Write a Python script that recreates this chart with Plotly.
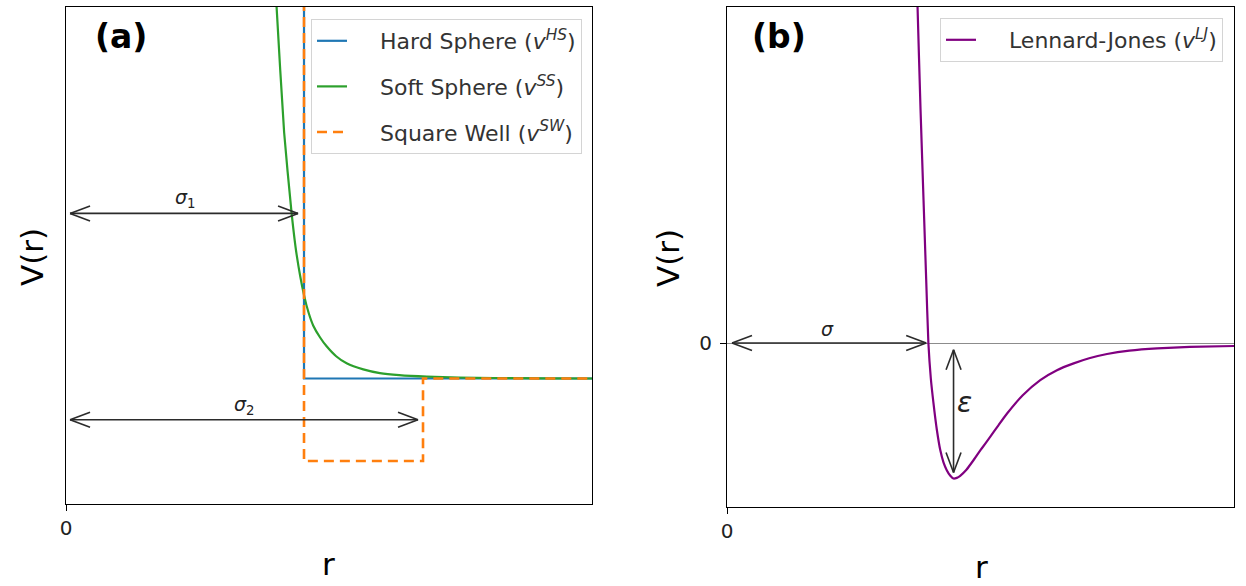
import plotly.graph_objects as go

# ---- data -------------------------------------------------------------
# (a) model pair potentials, r in units of sigma_1, V in units of well depth
hs_r = [1.0, 1.0, 2.21]
hs_v = [10.0, 0.0, 0.0]

ss_r = [0.87, 0.885, 0.9165, 0.948, 0.969, 1.0, 1.02, 1.039, 1.067, 1.095,
        1.135, 1.179, 1.249, 1.319, 1.40, 1.516, 1.65, 1.8, 2.0, 2.21]
ss_v = [5.4, 4.49, 2.98, 2.0, 1.50, 1.01, 0.79, 0.64, 0.50, 0.39,
        0.27, 0.184, 0.11, 0.065, 0.040, 0.022, 0.012, 0.006, 0.002, 0.0]

sw_r = [1.0, 1.0, 1.5, 1.5, 2.21]
sw_v = [10.0, -1.0, -1.0, 0.0, 0.0]

# (b) Lennard-Jones, r in units of sigma, V in units of epsilon
lj_r = [0.935, 0.947, 0.962, 0.977, 0.99, 1.001, 1.013, 1.026, 1.043, 1.06,
        1.076, 1.093, 1.11, 1.126, 1.142, 1.159, 1.19, 1.225, 1.265, 1.308,
        1.35, 1.392, 1.47, 1.557, 1.64, 1.723, 1.8, 1.889, 2.0, 2.138,
        2.3, 2.52]
lj_v = [3.2, 2.486, 1.72, 1.05, 0.47, 0.0, -0.26, -0.44, -0.64, -0.79,
        -0.88, -0.94, -0.98, -1.0, -0.995, -0.98, -0.935, -0.865, -0.78, -0.693,
        -0.605, -0.52, -0.385, -0.273, -0.2, -0.15, -0.112, -0.081, -0.056, -0.039,
        -0.029, -0.022]

# distance markers
sigma1 = 1.0
sigma2 = 1.5
sigma_lj = 1.0
r_min_lj = 1.126
eps = 1.0

FONT = "DejaVu Sans"
W, H = 1246, 586
PAD = "&nbsp;" * 4  # extra room between legend sample and label

fig = go.Figure()

fig.add_trace(go.Scatter(x=hs_r, y=hs_v, mode="lines",
                         name=PAD + "Hard Sphere (<i>v<sup>HS</sup></i>)",
                         line=dict(color="#1f77b4", width=2.2), legendgroup="hs",
                         xaxis="x", yaxis="y"))
fig.add_trace(go.Scatter(x=ss_r, y=ss_v, mode="lines",
                         name=PAD + "Soft Sphere (<i>v<sup>SS</sup></i>)",
                         line=dict(color="#2ca02c", width=2.2, shape="spline", smoothing=0.5),
                         legendgroup="ss", xaxis="x", yaxis="y"))
fig.add_trace(go.Scatter(x=sw_r, y=sw_v, mode="lines",
                         name=PAD + "Square Well (<i>v<sup>SW</sup></i>)",
                         line=dict(color="#ff7f0e", width=2.6, dash="10px,6px"),
                         legendgroup="sw", xaxis="x", yaxis="y"))
fig.add_trace(go.Scatter(x=lj_r, y=lj_v, mode="lines",
                         name=PAD + "Lennard-Jones (<i>v<sup>LJ</sup></i>)",
                         line=dict(color="purple", width=2.2, shape="spline", smoothing=0.5),
                         legend="legend2", xaxis="x2", yaxis="y2"))

# ---- double-headed arrows with open chevron heads ----------------------
ARROW_C = "#2b2b2b"
ARROW_W = 1.6
HEAD_L, HEAD_H = 20, 7.5
shapes = []


def chevron(xref, yref, x, y, dx, dy):
    """Two short arms anchored at the tip, pointing back along (dx, dy) in pixels."""
    for s in (1, -1):
        if dx != 0:
            x1, y1 = dx * HEAD_L, s * HEAD_H
        else:
            x1, y1 = s * HEAD_H, dy * HEAD_L
        shapes.append(dict(type="line", xref=xref, yref=yref,
                           xsizemode="pixel", ysizemode="pixel",
                           xanchor=x, yanchor=y, x0=0, y0=0, x1=x1, y1=y1,
                           line=dict(color=ARROW_C, width=ARROW_W)))


def h_arrow(xref, yref, xa, xb, y):
    shapes.append(dict(type="line", xref=xref, yref=yref, x0=xa, x1=xb, y0=y, y1=y,
                       line=dict(color=ARROW_C, width=ARROW_W)))
    chevron(xref, yref, xa, y, 1, 0)
    chevron(xref, yref, xb, y, -1, 0)


def v_arrow(xref, yref, x, ya, yb):
    shapes.append(dict(type="line", xref=xref, yref=yref, x0=x, x1=x, y0=ya, y1=yb,
                       line=dict(color=ARROW_C, width=ARROW_W)))
    chevron(xref, yref, x, ya, 0, -1)
    chevron(xref, yref, x, yb, 0, 1)


h_arrow("x", "y", 0.017, sigma1 - 0.025, 2.0)
h_arrow("x", "y", 0.017, sigma2 - 0.021, -0.5)
h_arrow("x2", "y2", 0.025, sigma_lj - 0.01, 0.0)
v_arrow("x2", "y2", r_min_lj, -0.05, -eps + 0.045)


def paper_text(text, px, py, size, bold=False, angle=0):
    return dict(text=f"<b>{text}</b>" if bold else text, x=px / W, y=1 - py / H,
                xref="paper", yref="paper", xanchor="center", yanchor="middle",
                textangle=angle, showarrow=False,
                font=dict(family=FONT, size=size, color="black"))


annotations = [
    dict(text="<i>σ</i><sub>1</sub>", x=sigma1 / 2, y=2.0, xref="x", yref="y",
         showarrow=False, xanchor="center", yanchor="bottom",
         font=dict(family=FONT, size=19, color="#222")),
    dict(text="<i>σ</i><sub>2</sub>", x=sigma2 / 2, y=-0.5, xref="x", yref="y",
         showarrow=False, xanchor="center", yanchor="bottom",
         font=dict(family=FONT, size=19, color="#222")),
    dict(text="<i>σ</i>", x=sigma_lj / 2, y=0.0, xref="x2", yref="y2",
         showarrow=False, xanchor="center", yanchor="bottom", yshift=1,
         font=dict(family=FONT, size=19, color="#222")),
    dict(text="<i>ε</i>", x=r_min_lj, y=-0.44, xref="x2", yref="y2",
         showarrow=False, xanchor="left", xshift=1,
         font=dict(family=FONT, size=28, color="#222")),
    paper_text("(a)", 121, 37, 33, bold=True),
    paper_text("(b)", 779, 37, 33, bold=True),
    paper_text("V(r)", 32, 257, 31, angle=-90),
    paper_text("V(r)", 668, 258, 31, angle=-90),
    paper_text("r", 328, 564, 31),
    paper_text("r", 981, 567, 31),
]

axis_common = dict(showline=True, mirror=True, linecolor="black", linewidth=1.2,
                   showgrid=False, zeroline=False, ticks="outside", ticklen=6,
                   tickcolor="black", tickwidth=1.2, automargin=False,
                   tickfont=dict(family=FONT, size=20, color="#222"))

legend_common = dict(font=dict(family=FONT, size=22, color="#333"),
                     bgcolor="rgba(255,255,255,0.85)", bordercolor="#d4d4d4", borderwidth=1,
                     xanchor="right", yanchor="top", tracegroupgap=14, itemwidth=30)

fig.update_layout(
    width=W, height=H,
    margin=dict(l=0, r=0, t=0, b=0, pad=0, autoexpand=False),
    paper_bgcolor="white", plot_bgcolor="white",
    font=dict(family=FONT),
    xaxis=dict(domain=[66 / W, 592 / W], range=[0, 2.21], tickvals=[0], ticktext=["0"],
               anchor="y", **axis_common),
    yaxis=dict(domain=[1 - 504 / H, 1 - 7 / H], range=[-1.52, 4.5], showticklabels=False,
               anchor="x", **{k: v for k, v in axis_common.items() if k != "ticks"},
               ticks=""),
    xaxis2=dict(domain=[727 / W, 1234 / W], range=[0, 2.52], tickvals=[0], ticktext=["0"],
                anchor="y2", **axis_common),
    yaxis2=dict(domain=[1 - 507 / H, 1 - 7 / H], range=[-1.21, 2.48], tickvals=[0], ticktext=["0"],
                anchor="x2", **{k: v for k, v in axis_common.items() if k != "zeroline"},
                zeroline=True, zerolinecolor="#8c8c8c", zerolinewidth=1.2,
                ticklabelstandoff=4),
    legend=dict(x=582 / W, y=1 - 19 / H, **legend_common),
    legend2=dict(x=1223 / W, y=1 - 18 / H, **legend_common),
    shapes=shapes,
    annotations=annotations,
)

fig.write_html("out.html")
